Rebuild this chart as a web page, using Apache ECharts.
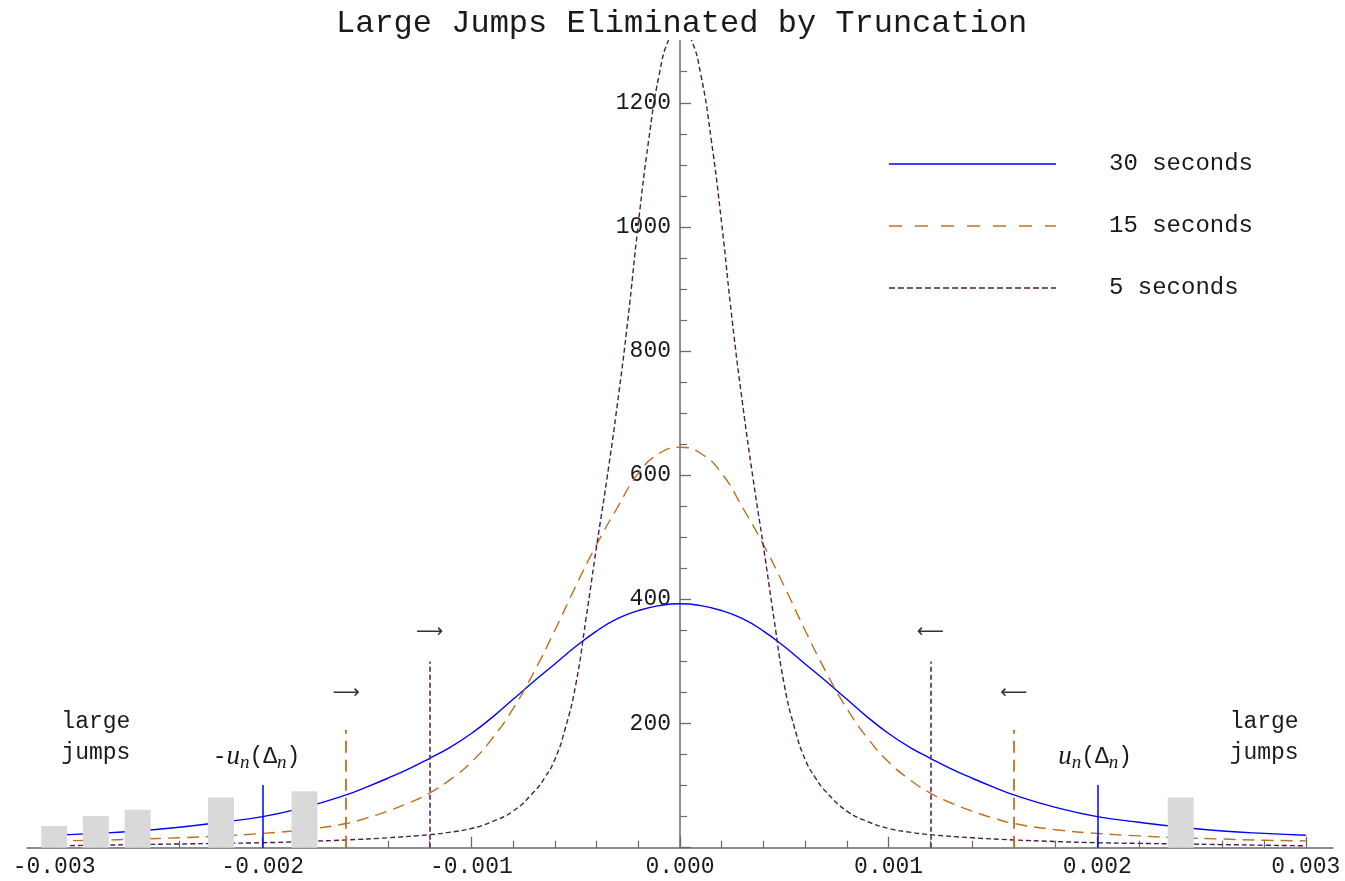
<!DOCTYPE html>
<html>
<head>
<meta charset="utf-8">
<script src="https://cdn.jsdelivr.net/npm/echarts@6/dist/echarts.min.js"></script>
<style>
html,body{margin:0;padding:0;background:#fff;}
#chart{width:1345px;height:881px;}
</style>
</head>
<body>
<div id="chart"></div>
<script>
// ---- data ----
const gridX = [-0.003,-0.0028,-0.0026,-0.0024,-0.0022,-0.002,-0.0018,-0.0016,-0.0015,-0.0014,-0.0013,-0.0012,-0.0011,-0.001,-0.0009,-0.0008,-0.0007,-0.0006,-0.0005,-0.0004,-0.0003,-0.0002,-0.0001,0,
  0.0001,0.0002,0.0003,0.0004,0.0005,0.0006,0.0007,0.0008,0.0009,0.001,0.0011,0.0012,0.0013,0.0014,0.0015,0.0016,0.0018,0.002,0.0022,0.0024,0.0026,0.0028,0.003];
const blue30 = [20,23,27,33,41,50,65,85,98,112,127,144,162,184,210,239,268,296,324,349,369,382,390,393,
  390,382,369,349,324,296,268,239,210,184,162,144,127,112,98,85,65,50,41,33,27,23,20];
const orange15 = [11,12,14,16,19,23,29,39,48,59,72,88,110,138,176,224,283,350,421,488,548,603,635,645,
  635,603,548,488,421,350,283,224,176,138,110,88,72,59,48,39,29,23,19,16,14,12,11];
const purpleX = [-0.003,-0.0028,-0.0026,-0.0024,-0.0022,-0.002,-0.0018,-0.0016,-0.0014,-0.0012,-0.0011,-0.001,-0.0009,-0.0008,-0.0007,-0.00065,-0.0006,-0.00055,-0.0005,-0.00045,-0.0004,-0.00035,-0.0003,-0.00025,-0.0002,-0.00015,-0.0001,-0.00005,0,
  0.00005,0.0001,0.00015,0.0002,0.00025,0.0003,0.00035,0.0004,0.00045,0.0005,0.00055,0.0006,0.00065,0.0007,0.0008,0.0009,0.001,0.0011,0.0012,0.0014,0.0016,0.0018,0.002,0.0022,0.0024,0.0026,0.0028,0.003];
const purple5 = [3,4,5,6,7,8,10,12.5,16,21,25,31,42,59,90,112,142,192,262,370,485,595,715,850,1005,1140,1245,1305,1325,
  1305,1245,1140,1005,850,715,595,485,370,262,192,142,112,90,59,42,31,25,21,16,12.5,10,8,7,6,5,4,3];

const jumpX = [-0.003,-0.0028,-0.0026,-0.0022,-0.0018,0.0024];
const jumpY = [35,51,61,81,91,81];

const cutX = [0.002, 0.0016, 0.0012];      // 30s, 15s, 5s thresholds
const cutH = [101, 190, 300];

const seriesNames = ['30 seconds', '15 seconds', '5 seconds'];
const xMajorTicks = [-0.003,-0.002,-0.001,0,0.001,0.002,0.003];
const xMinorTicks = [-0.0028,-0.0026,-0.0024,-0.0022,-0.0018,-0.0016,-0.0014,-0.0012,-0.0008,-0.0006,-0.0004,-0.0002,
  0.0002,0.0004,0.0006,0.0008,0.0012,0.0014,0.0016,0.0018,0.0022,0.0024,0.0026,0.0028];
const yMajorTicks = [0,200,400,600,800,1000,1200];
const yLabels = [200,400,600,800,1000,1200];
const yMinorTicks = [50,100,150,250,300,350,450,500,550,650,700,750,850,900,950,1050,1100,1150,1250];

const arrowX = [-0.0012, 0.0012, -0.0016, 0.0016];
const arrowY = [347, 347, 249, 249];
const arrowText = ['\u27F6', '\u27F5', '\u27F6', '\u27F5'];

const noteX = [-0.0028, 0.0028];
const noteY = [177, 177];
const noteText = ['large\njumps', 'large\njumps'];

const uX = [-0.00203, 0.00199];
const uY = [146, 146];
const uText = ['{m|-}{i|u}{s|n}{m|(\u0394}{s|n}{m|)}', '{i|u}{s|n}{m|(\u0394}{s|n}{m|)}'];

// ---- styles ----
const MONO = 'Liberation Mono';
const TXT = '#1a1a1a';
const colors = ['#0000ff', '#c0701e', '#4e1a50'];
const dashes = ['solid', [12, 7], [5, 3]];
const legendDashes = ['solid', [13, 13], [6, 3]];
const vColors = ['#0000ff', '#c0701e', '#6a3d6c'];
const axisColor = '#6a6a6a';
const GRID_LEFT = 27, GRID_RIGHT = 12;
const CHART_W = 1345;
const X_MIN = -0.00313, X_MAX = 0.00313;
// y axis sits at x = 0: shift it from the grid's left edge into the plot
const yAxisOffset = -((0 - X_MIN) / (X_MAX - X_MIN)) * (CHART_W - GRID_LEFT - GRID_RIGHT);

const curveData = [
  gridX.map((x, i) => [x, blue30[i]]),
  gridX.map((x, i) => [x, orange15[i]]),
  purpleX.map((x, i) => [x, purple5[i]])
];

const lineSeries = seriesNames.map((name, k) => ({
  name: name,
  type: 'line',
  data: curveData[k],
  symbol: 'none',
  smooth: 0.5,
  clip: true,
  z: 2,
  silent: true,
  lineStyle: { color: colors[k], width: 1.4, type: dashes[k] },
  itemStyle: { color: colors[k] },
  markLine: {
    silent: true,
    symbol: ['none', 'none'],
    label: { show: false },
    lineStyle: { color: vColors[k], width: k === 0 ? 1.5 : 1.8, type: dashes[k] },
    data: [
      [{ coord: [-cutX[k], 0] }, { coord: [-cutX[k], cutH[k]] }],
      [{ coord: [cutX[k], 0] }, { coord: [cutX[k], cutH[k]] }]
    ]
  }
}));

const textScatter = (name, xs, ys, texts, label) => ({
  name: name,
  type: 'scatter',
  symbolSize: 0,
  silent: true,
  z: 6,
  itemStyle: { opacity: 1 },
  data: xs.map((x, i) => ({ value: [x, ys[i]], label: { formatter: texts[i] } })),
  label: Object.assign({ show: true, position: 'inside', color: TXT, opacity: 1, textBorderWidth: 0 }, label)
});

const chart = echarts.init(document.getElementById('chart'), null, { renderer: 'canvas' });
chart.setOption({
  animation: false,
  backgroundColor: '#ffffff',
  title: {
    text: 'Large Jumps Eliminated by Truncation',
    left: 331,
    top: 3,
    textStyle: { fontFamily: MONO, fontSize: 32, fontWeight: 'normal', color: TXT }
  },
  legend: {
    data: seriesNames.map((n, k) => ({ name: n, lineStyle: { type: legendDashes[k] } })),
    orient: 'vertical',
    left: 888,
    top: 152,
    itemWidth: 167,
    itemHeight: 20,
    itemGap: 38,
    padding: 0,
    itemStyle: { opacity: 0 },
    lineStyle: { opacity: 0.75 },
    textStyle: { fontFamily: MONO, fontSize: 24, color: TXT, padding: [0, 0, 0, 48] },
    selectedMode: false
  },
  grid: { left: GRID_LEFT, right: GRID_RIGHT, top: 40.7, bottom: 33.3, containLabel: false, outerBoundsMode: 'none' },
  xAxis: [
    {
      type: 'value', min: X_MIN, max: X_MAX,
      axisLine: { onZero: false, lineStyle: { color: axisColor, width: 1.5 } },
      axisTick: { show: true, inside: true, length: 11, customValues: xMajorTicks, lineStyle: { color: axisColor, width: 1.3 } },
      axisLabel: { customValues: xMajorTicks, formatter: v => v.toFixed(3), fontFamily: MONO, fontSize: 23, color: TXT, margin: 8 },
      splitLine: { show: false }
    },
    {
      type: 'value', min: X_MIN, max: X_MAX, position: 'bottom',
      axisLine: { show: false, onZero: false },
      axisTick: { show: true, inside: true, length: 7, customValues: xMinorTicks, lineStyle: { color: axisColor, width: 1.2 } },
      axisLabel: { show: false },
      splitLine: { show: false }
    }
  ],
  yAxis: [
    {
      type: 'value', min: 0, max: 1300, position: 'left', offset: yAxisOffset,
      axisLine: { onZero: false, lineStyle: { color: axisColor, width: 1.5 } },
      axisTick: { show: true, inside: true, length: 11, customValues: yMajorTicks, lineStyle: { color: axisColor, width: 1.3 } },
      axisLabel: { customValues: yLabels, formatter: v => String(v), fontFamily: MONO, fontSize: 23, color: TXT, margin: 9 },
      splitLine: { show: false }
    },
    {
      type: 'value', min: 0, max: 1300, position: 'left', offset: yAxisOffset,
      axisLine: { show: false, onZero: false },
      axisTick: { show: true, inside: true, length: 7, customValues: yMinorTicks, lineStyle: { color: axisColor, width: 1.2 } },
      axisLabel: { show: false },
      splitLine: { show: false }
    }
  ],
  series: lineSeries.concat([
    {
      name: 'jumps',
      type: 'bar',
      data: jumpX.map((x, i) => [x, jumpY[i]]),
      barWidth: 26,
      z: 5,
      silent: true,
      itemStyle: { color: '#d9d9d9' }
    },
    textScatter('arrows', arrowX, arrowY, arrowText, { fontFamily: 'DejaVu Sans', fontSize: 19, color: '#333' }),
    textScatter('notes', noteX, noteY, noteText, { align: 'center', fontFamily: MONO, fontSize: 23, lineHeight: 31 }),
    textScatter('thresholds', uX, uY, uText, {
      rich: {
        m: { fontFamily: MONO, fontSize: 23, color: TXT, lineHeight: 30, verticalAlign: 'middle' },
        i: { fontFamily: 'Liberation Serif', fontStyle: 'italic', fontSize: 27, color: TXT, lineHeight: 30, verticalAlign: 'middle' },
        s: { fontFamily: 'Liberation Serif', fontStyle: 'italic', fontSize: 19, color: TXT, lineHeight: 30, verticalAlign: 'bottom' }
      }
    })
  ])
});
</script>
</body>
</html>
